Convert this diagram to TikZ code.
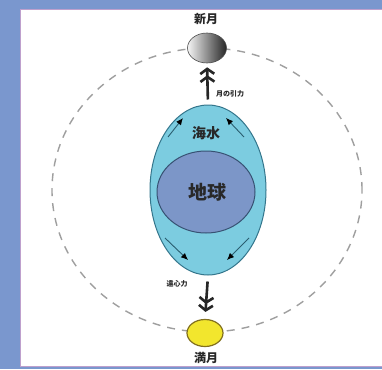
\documentclass[tikz,border=0pt]{standalone}
\usepackage{fontspec}
\newfontfamily\jp{Noto Sans CJK JP}
\usetikzlibrary{shapes.geometric}
\usetikzlibrary{positioning}
\usetikzlibrary{arrows.meta}
\usepackage{xcolor}
\definecolor{bgblue}{RGB}{122,151,206}
\definecolor{rimlav}{RGB}{190,160,205}
\definecolor{seafill}{RGB}{124,204,224}
\definecolor{seaedge}{RGB}{52,118,140}
\definecolor{earthfill}{RGB}{124,150,200}
\definecolor{earthedge}{RGB}{55,82,115}
\definecolor{moonyellow}{RGB}{242,230,45}
\definecolor{moonedge}{RGB}{130,112,30}
\definecolor{txt}{RGB}{40,40,40}

\begin{document}
\begin{tikzpicture}[x=1pt, y=-1pt,
    label/.style={font=\jp\bfseries, text=txt, inner sep=0pt},
    tiny/.style={font=\jp\bfseries\fontsize{7}{7}\selectfont, text=txt, inner sep=0pt},
    force/.style={line width=2.6pt, black!85,
        -{Straight Barb[length=5pt,width=14pt,line width=2.6pt] Straight Barb[length=5pt,width=14pt,line width=2.6pt]}},
    flow/.style={line width=0.9pt, seaedge!80!black, -{Latex[length=7pt,width=6pt,black]}},
    orbit/.style={gray!75, line width=1.4pt, dash pattern=on 8pt off 7pt}]
            \useasboundingbox (0,0) rectangle (382,369);
            % backdrop and white panel
            \fill[bgblue] (0,0) rectangle (382,369);
            \fill[white] (20,9) rectangle (382,366);
            \draw[rimlav, line width=0.8pt] (383,9) -- (20,9) -- (20,366) -- (383,366);

            % moon orbit
            \draw[orbit] (207,190) ellipse [x radius=155pt, y radius=142pt];

            % earth with its water layer
            \node[draw=seaedge, line width=1pt, fill=seafill, ellipse, minimum width=116pt, minimum height=170pt] (sea) at (208,190) {};
            \node[draw=earthedge, line width=1pt, fill=earthfill, ellipse, minimum width=98pt, minimum height=82pt] (earth) at (206,192) {};
            \node[label, font=\jp\bfseries\fontsize{19}{19}\selectfont] (chikyu) at (207,192) {地球};
            \node[label, font=\jp\bfseries\fontsize{14}{14}\selectfont] (kaisui) at (206,133) {海水};

            % tidal flow inside the water
            \draw[flow] (168,137) -- (183,118);
            \draw[flow] (244,137) -- (226,118);
            \draw[flow] (165,238) -- (188,260);
            \draw[flow] (249,238) -- (227,260);

            % the two moons
            \node[draw=black!70, line width=0.6pt, ellipse, minimum width=39pt, minimum height=30pt,
                  left color=gray!8, right color=black!85] (newmoon) at (207,48) {};
            \node[draw=moonedge, line width=1.2pt, fill=moonyellow, ellipse, minimum width=36pt, minimum height=27pt] (fullmoon) at (205,333) {};
            \node[label, font=\jp\bfseries\fontsize{12}{12}\selectfont] (shingetsu) at (206,19) {新月};
            \node[label, font=\jp\bfseries\fontsize{12}{12}\selectfont] (mangetsu) at (206,358) {満月};

            % forces
            \draw[force, shorten <=5pt, shorten >=4pt] (sea.north) -- (newmoon.south);
            \draw[force, shorten <=6pt, shorten >=7pt] (sea.south) -- (fullmoon.north);
            \node[tiny, anchor=west] (inryoku) at (216,94) {月の引力};
            \node[tiny] (enshin) at (177,284) {遠心力};
        \end{tikzpicture}
\end{document}
